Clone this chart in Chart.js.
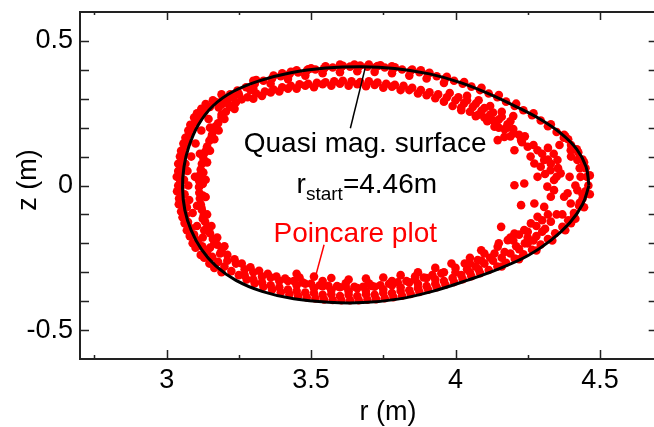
<!DOCTYPE html>
<html lang="en">
<head>
    <meta charset="UTF-8">
    <title>Poincare plot</title>
    <script src="https://cdn.jsdelivr.net/npm/chart.js"></script>
    <style>
        html, body { margin: 0; padding: 0; overflow: hidden; background: #fff; }
        canvas { display: block; }
    </style>
</head>
<body>
    <canvas id="poincare-chart" width="662" height="427"></canvas>

    <script>
        // axis ranges and ticks
        const rRange = [2.7, 4.7];
        const zRange = [-0.6, 0.6];
        const rMajorTicks = [3, 3.5, 4, 4.5];
        const rMinorTicks = [2.75, 3.25, 3.75, 4.25];
        const zMajorTicks = [-0.5, 0, 0.5];
        const zMinorTicks = [-0.4, -0.3, -0.2, -0.1, 0.1, 0.2, 0.3, 0.4];

        // quasi magnetic surface traced from r_start = 4.46 m
        const surfaceR = [4.462, 4.452, 4.42, 4.365, 4.295, 4.215, 4.12, 4.02, 3.91, 3.79, 3.675, 3.55, 3.43, 3.32,
            3.23, 3.16, 3.11, 3.077, 3.06, 3.055, 3.063, 3.085, 3.12, 3.17, 3.24, 3.33, 3.44, 3.56, 3.68, 3.8,
            3.92, 4.04, 4.15, 4.25, 4.33, 4.395, 4.44, 4.462];
        const surfaceZ = [0.0, 0.065, 0.125, 0.18, 0.228, 0.27, 0.315, 0.355, 0.386, 0.405, 0.411, 0.406, 0.39, 0.362,
            0.325, 0.275, 0.21, 0.135, 0.065, -0.01, -0.085, -0.155, -0.22, -0.278, -0.328, -0.366, -0.392, -0.404, -0.405, -0.393,
            -0.366, -0.328, -0.288, -0.243, -0.19, -0.13, -0.065, 0.0];

        // Poincare plot: punctures on the outer band (near the surface)
        const outerBand = [
            [4.46, 0.0], [4.455, 0.03], [4.45, 0.06], [4.44, 0.09], [4.425, 0.115], [4.40, 0.14], [4.375, 0.165],
            [4.35, 0.185], [4.32, 0.205], [4.295, 0.225], [4.265, 0.243], [4.235, 0.26], [4.205, 0.275], [4.175, 0.29],
            [4.145, 0.305], [4.115, 0.318], [4.085, 0.33], [4.055, 0.342], [4.025, 0.352], [3.995, 0.362], [3.965, 0.37],
            [3.935, 0.378], [3.905, 0.386], [3.875, 0.392], [3.845, 0.397], [3.815, 0.401], [3.785, 0.405], [3.755, 0.408],
            [3.725, 0.41], [3.695, 0.411], [3.665, 0.412], [3.635, 0.411], [3.605, 0.41], [3.575, 0.408], [3.545, 0.405],
            [3.515, 0.401], [3.485, 0.397], [3.455, 0.391], [3.425, 0.385], [3.395, 0.378], [3.365, 0.37], [3.335, 0.362],
            [3.305, 0.352], [3.275, 0.34], [3.245, 0.328], [3.22, 0.315], [3.195, 0.302], [3.172, 0.288], [3.15, 0.272],
            [3.13, 0.255], [3.113, 0.237], [3.098, 0.218], [3.087, 0.198], [3.077, 0.178], [3.069, 0.156], [3.062, 0.134],
            [3.057, 0.11], [3.053, 0.087], [3.05, 0.063], [3.048, 0.04], [3.047, 0.016], [3.048, -0.008], [3.05, -0.032],
            [3.054, -0.056], [3.059, -0.08], [3.066, -0.103], [3.074, -0.126], [3.084, -0.148], [3.095, -0.17], [3.108, -0.19],
            [3.123, -0.21], [3.14, -0.229], [3.158, -0.247], [3.178, -0.264], [3.2, -0.28], [3.224, -0.296], [3.25, -0.31],
            [3.277, -0.325], [3.305, -0.338], [3.335, -0.35], [3.365, -0.36], [3.395, -0.369], [3.425, -0.376], [3.455, -0.382],
            [3.485, -0.387], [3.515, -0.391], [3.545, -0.394], [3.575, -0.396], [3.605, -0.397], [3.635, -0.397], [3.665, -0.397],
            [3.695, -0.395], [3.725, -0.393], [3.755, -0.39], [3.785, -0.386], [3.815, -0.381], [3.845, -0.375], [3.875, -0.368],
            [3.905, -0.36], [3.935, -0.352], [3.965, -0.343], [3.995, -0.334], [4.025, -0.324], [4.055, -0.314], [4.085, -0.303],
            [4.115, -0.292], [4.145, -0.28], [4.175, -0.267], [4.205, -0.253], [4.235, -0.238], [4.265, -0.222], [4.295, -0.204],
            [4.32, -0.185], [4.345, -0.165], [4.37, -0.143], [4.39, -0.12], [4.41, -0.095], [4.428, -0.07], [4.44, -0.045],
            [4.45, -0.02],
            [3.035, 0.03], [3.036, -0.02], [3.04, 0.075], [3.042, -0.065], [3.05, 0.12], [3.055, -0.11], [3.065, 0.165],
            [3.07, -0.155], [3.082, 0.21], [3.09, -0.2], [3.105, 0.25], [3.118, -0.24], [3.135, 0.282], [3.148, -0.27],
            [3.3, 0.362], [3.4, 0.388], [3.45, 0.398], [3.5, 0.405], [3.55, 0.412], [3.6, 0.418], [3.65, 0.418],
            [3.7, 0.418], [3.74, 0.416], [3.78, 0.412], [3.88, 0.398],
            [3.075, 0.0], [3.072, 0.05], [3.078, -0.05], [3.085, 0.1], [3.09, -0.095], [3.1, 0.145], [3.105, -0.14],
            [3.12, 0.19], [3.125, -0.18], [3.145, 0.23], [3.15, -0.215],
            [3.3, 0.335], [3.36, 0.352], [3.42, 0.368], [3.48, 0.38], [3.54, 0.388], [3.6, 0.392], [3.66, 0.395],
            [3.72, 0.393], [3.78, 0.388], [3.84, 0.38], [3.9, 0.37], [3.96, 0.355],
            [3.3, -0.325], [3.36, -0.345], [3.42, -0.36], [3.48, -0.37], [3.54, -0.378], [3.6, -0.382], [3.66, -0.382],
            [3.72, -0.378], [3.78, -0.372], [3.84, -0.362], [3.9, -0.348], [3.96, -0.33], [4.02, -0.31], [4.08, -0.29],
            [3.31, 0.365], [3.37, 0.38], [3.43, 0.393], [3.49, 0.402], [3.55, 0.41], [3.61, 0.414], [3.67, 0.415],
            [3.73, 0.413], [3.79, 0.409], [3.85, 0.401], [3.91, 0.39], [3.97, 0.376], [4.03, 0.358], [4.09, 0.338],
            [4.15, 0.313], [4.21, 0.283], [4.27, 0.25], [4.33, 0.212], [4.38, 0.17], [4.42, 0.125], [4.445, 0.08],
            [4.465, 0.035], [4.465, -0.03], [4.445, -0.075], [4.415, -0.115], [4.38, -0.155], [4.335, -0.19], [4.28, -0.225],
            [4.22, -0.255], [4.16, -0.28],
            [3.04, 0.05], [3.04, 0.0], [3.043, -0.045], [3.046, 0.1], [3.05, -0.09], [3.058, 0.145], [3.062, -0.13],
            [3.075, 0.19], [3.08, -0.175], [3.095, 0.235], [3.1, -0.215], [3.12, 0.265], [3.13, -0.25], [3.16, 0.295],
            [3.165, -0.285], [3.19, 0.315], [3.19, -0.3], [3.06, 0.02], [3.062, -0.03], [3.065, 0.075], [3.07, -0.075],
            [3.27, -0.31], [3.33, -0.335], [3.39, -0.352], [3.45, -0.365], [3.51, -0.372], [3.57, -0.376], [3.63, -0.378],
            [3.69, -0.376], [3.75, -0.372], [3.81, -0.365], [3.87, -0.355], [3.93, -0.34], [3.99, -0.32], [4.05, -0.3],
            [4.43, 0.06], [4.44, -0.03], [4.43, -0.06], [4.4, 0.1], [4.415, 0.0], [4.395, 0.03], [4.39, 0.16],
            [4.4, -0.13], [4.37, -0.1], [4.36, 0.14]
        ];

        // punctures on the inner band
        const innerBand = [
            [3.28, 0.305], [3.31, 0.318], [3.34, 0.325], [3.37, 0.332], [3.40, 0.34], [3.43, 0.345], [3.46, 0.35],
            [3.49, 0.352], [3.52, 0.355], [3.55, 0.357], [3.58, 0.36], [3.61, 0.362], [3.64, 0.36], [3.67, 0.358],
            [3.70, 0.36], [3.73, 0.356], [3.76, 0.352], [3.79, 0.348], [3.82, 0.345], [3.85, 0.338], [3.88, 0.33],
            [3.91, 0.322], [3.94, 0.315], [3.97, 0.305],
            [3.33, 0.31], [3.39, 0.325], [3.45, 0.335], [3.51, 0.34], [3.57, 0.345], [3.63, 0.345], [3.69, 0.343],
            [3.75, 0.338], [3.81, 0.33], [3.87, 0.318], [3.93, 0.302],
            [4.0, 0.295], [4.03, 0.285], [4.06, 0.272], [4.09, 0.258], [4.12, 0.245], [4.15, 0.228], [4.18, 0.212],
            [4.2, 0.195], [4.22, 0.175], [3.99, 0.275], [4.05, 0.255], [4.1, 0.235], [4.14, 0.215], [4.17, 0.195],
            [4.04, 0.31], [4.08, 0.295], [4.12, 0.275], [4.16, 0.255], [4.2, 0.24],
            [3.92, -0.31], [3.89, -0.318], [3.86, -0.325], [3.83, -0.33], [3.80, -0.335], [3.77, -0.34], [3.74, -0.345],
            [3.71, -0.347], [3.68, -0.35], [3.65, -0.35], [3.62, -0.35], [3.59, -0.348], [3.56, -0.347], [3.53, -0.345],
            [3.50, -0.34], [3.47, -0.335], [3.44, -0.33], [3.41, -0.322], [3.38, -0.315], [3.35, -0.305], [3.32, -0.295],
            [3.29, -0.283], [3.26, -0.27], [3.235, -0.255], [3.21, -0.24],
            [3.45, -0.305], [3.51, -0.315], [3.57, -0.32], [3.63, -0.325], [3.69, -0.322], [3.75, -0.318], [3.81, -0.31],
            [3.87, -0.3], [3.93, -0.285],
            [3.19, -0.225], [3.175, -0.205], [3.16, -0.185], [3.15, -0.165], [3.14, -0.145], [3.133, -0.125], [3.128, -0.105],
            [3.122, -0.085], [3.118, -0.065], [3.115, -0.045], [3.113, -0.025], [3.112, -0.005], [3.113, 0.015], [3.115, 0.035],
            [3.118, 0.055], [3.122, 0.075], [3.127, 0.095], [3.133, 0.115], [3.14, 0.135], [3.148, 0.155], [3.157, 0.175],
            [3.167, 0.195], [3.178, 0.215], [3.19, 0.235], [3.205, 0.255], [3.222, 0.272], [3.24, 0.288], [3.26, 0.298],
            [3.14, -0.1], [3.135, -0.04], [3.135, 0.02], [3.14, 0.08], [3.15, 0.12], [3.165, 0.16], [3.18, 0.19],
            [3.155, -0.14], [3.175, -0.18], [3.2, -0.21], [3.2, 0.23], [3.235, 0.265],
            [3.3, 0.3], [3.36, 0.322], [3.42, 0.335], [3.48, 0.345], [3.54, 0.35], [3.6, 0.352], [3.66, 0.35],
            [3.72, 0.348], [3.78, 0.342], [3.84, 0.33], [3.9, 0.312], [3.96, 0.29], [4.02, 0.27], [4.08, 0.245],
            [4.13, 0.225], [4.18, 0.2],
            [3.125, -0.115], [3.12, -0.075], [3.125, -0.035], [3.125, 0.005], [3.127, 0.045], [3.13, 0.085], [3.138, 0.125],
            [3.155, 0.165], [3.17, 0.205], [3.19, 0.245], [3.215, 0.28], [3.165, -0.2], [3.185, -0.235], [3.21, -0.26],
            [3.24, -0.27], [3.3, -0.3], [3.36, -0.318], [3.42, -0.33], [3.48, -0.34], [3.54, -0.348], [3.6, -0.352],
            [3.66, -0.355], [3.72, -0.35], [3.78, -0.345], [3.84, -0.335], [3.9, -0.32], [3.96, -0.3], [4.0, -0.285],
            [4.05, -0.27],
            [3.98, 0.32], [4.01, 0.305], [4.04, 0.295], [4.07, 0.283], [4.1, 0.268], [4.13, 0.252], [4.16, 0.238],
            [4.19, 0.222], [4.02, 0.26], [4.07, 0.24], [4.11, 0.222], [4.15, 0.2], [4.19, 0.17], [4.23, 0.15],
            [4.0, -0.3], [4.04, -0.29], [4.07, -0.28], [4.1, -0.27], [4.13, -0.26], [4.16, -0.25], [4.19, -0.235],
            [4.22, -0.22], [4.25, -0.2], [4.28, -0.175], [4.31, -0.15], [4.33, -0.125], [4.35, -0.1], [4.2, -0.19],
            [4.25, -0.18], [4.15, -0.2], [4.1, -0.235], [4.05, -0.25],
            [3.27, -0.29], [3.33, -0.315], [3.39, -0.33], [3.45, -0.345], [3.51, -0.355], [3.57, -0.362], [3.63, -0.366],
            [3.69, -0.365], [3.75, -0.36], [3.81, -0.352], [3.87, -0.34], [3.93, -0.325], [3.46, -0.318], [3.54, -0.33],
            [3.62, -0.338], [3.7, -0.338], [3.78, -0.33], [3.86, -0.315],
            [3.098, 0.03], [3.105, -0.07], [3.115, 0.11], [3.13, -0.155], [3.15, 0.2],
            [3.18, 0.27], [3.21, 0.295], [3.25, 0.315], [3.29, 0.33], [3.23, 0.305], [3.19, 0.28]
        ];

        // scattered punctures near the outboard side
        const outboardScatter = [
            [4.135, 0.203], [4.169, 0.168], [4.227, 0.157], [4.25, 0.134], [4.284, 0.122], [4.307, 0.088], [4.329, 0.053],
            [4.341, 0.019], [4.318, -0.004], [4.284, 0.03], [4.295, 0.065], [4.273, 0.076], [4.204, 0.001], [4.238, 0.007],
            [4.227, -0.068], [4.273, -0.062], [4.307, -0.074], [4.284, -0.108], [4.261, -0.131], [4.238, -0.154], [4.204, -0.166],
            [4.181, -0.189], [4.146, -0.212], [4.158, -0.143], [4.135, -0.235], [4.089, -0.224], [4.077, -0.258], [4.032, -0.27],
            [3.986, -0.27], [3.951, -0.304], [4.422, 0.088], [4.433, 0.03], [4.422, -0.016], [4.399, -0.062], [4.41, -0.108],
            [4.388, -0.027], [4.399, 0.122], [4.376, 0.175], [4.146, 0.157], [4.204, 0.122], [4.353, 0.088], [4.364, 0.042],
            [4.341, -0.016], [4.376, -0.039], [4.33, -0.039],
            [4.26, 0.1], [4.3, 0.11], [4.32, 0.09], [4.33, 0.075], [4.31, 0.04], [4.35, 0.03], [4.32, 0.13], [4.34, 0.11],
            [4.355, 0.06], [4.27, 0.14], [4.24, 0.17], [4.2, 0.18], [4.19, -0.18], [4.22, -0.17], [4.25, -0.16], [4.28, -0.14],
            [4.3, -0.12], [4.32, -0.1], [4.3, -0.16], [4.27, -0.19], [4.24, -0.2], [4.21, -0.21], [4.17, -0.23], [4.12, -0.25],
            [4.09, -0.26]
        ];

        const fontFamily = '"Liberation Sans", Arial, Helvetica, sans-serif';

        function toPoints(list) {
            return list.map(p => ({ x: p[0], y: p[1] }));
        }

        // frame with inward ticks, axis titles, and the two annotations
        const framePlugin = {
            id: 'framePlugin',
            afterDraw(chart) {
                const ctx = chart.ctx;
                const a = chart.chartArea;
                const xs = chart.scales.x;
                const ys = chart.scales.y;
                ctx.save();

                // leader lines
                ctx.lineWidth = 1.5;
                ctx.strokeStyle = '#000';
                ctx.beginPath();
                ctx.moveTo(xs.getPixelForValue(3.687), ys.getPixelForValue(0.405));
                ctx.lineTo(xs.getPixelForValue(3.636), ys.getPixelForValue(0.198));
                ctx.stroke();
                ctx.strokeStyle = '#ff0000';
                ctx.beginPath();
                ctx.moveTo(xs.getPixelForValue(3.545), ys.getPixelForValue(-0.205));
                ctx.lineTo(xs.getPixelForValue(3.515), ys.getPixelForValue(-0.316));
                ctx.stroke();

                // annotation text
                ctx.textBaseline = 'alphabetic';
                ctx.font = '28px ' + fontFamily;
                ctx.fillStyle = '#000';
                ctx.textAlign = 'center';
                ctx.fillText('Quasi mag. surface', xs.getPixelForValue(3.687), ys.getPixelForValue(0.1166));

                ctx.textAlign = 'left';
                const subFont = '19px ' + fontFamily;
                const mainFont = '28px ' + fontFamily;
                ctx.font = mainFont;
                const wR = ctx.measureText('r').width;
                const wEq = ctx.measureText('=4.46m').width;
                ctx.font = subFont;
                const wSub = ctx.measureText('start').width;
                let tx = xs.getPixelForValue(3.693) - (wR + wSub + wEq) / 2;
                const ty = ys.getPixelForValue(-0.0273);
                ctx.font = mainFont;
                ctx.fillText('r', tx, ty);
                tx += wR;
                ctx.font = subFont;
                ctx.fillText('start', tx, ty + 7);
                tx += wSub;
                ctx.font = mainFont;
                ctx.fillText('=4.46m', tx, ty);

                ctx.fillStyle = '#ff0000';
                ctx.textAlign = 'center';
                ctx.fillText('Poincare plot', xs.getPixelForValue(3.653), ys.getPixelForValue(-0.195));

                // frame
                ctx.strokeStyle = '#222';
                ctx.lineWidth = 2;
                ctx.strokeRect(a.left, a.top, a.right - a.left, a.bottom - a.top);

                // inward ticks
                ctx.lineWidth = 1.5;
                ctx.beginPath();
                const xTick = (v, lb, lt) => {
                    const px = Math.round(xs.getPixelForValue(v)) + 0.5;
                    ctx.moveTo(px, a.bottom); ctx.lineTo(px, a.bottom - lb);
                    ctx.moveTo(px, a.top); ctx.lineTo(px, a.top + lt);
                };
                const yTick = (v, len) => {
                    const py = Math.round(ys.getPixelForValue(v)) + 0.5;
                    ctx.moveTo(a.left, py); ctx.lineTo(a.left + len, py);
                    ctx.moveTo(a.right, py); ctx.lineTo(a.right - len, py);
                };
                rMajorTicks.forEach(v => xTick(v, 9, 8));
                rMinorTicks.forEach(v => xTick(v, 4, 3));
                zMajorTicks.forEach(v => yTick(v, 9));
                zMinorTicks.forEach(v => yTick(v, 9));
                ctx.stroke();

                // axis titles
                ctx.fillStyle = '#000';
                ctx.font = '27px ' + fontFamily;
                ctx.textAlign = 'center';
                ctx.textBaseline = 'alphabetic';
                ctx.fillText('r (m)', 388, 420);
                ctx.translate(36, 180);
                ctx.rotate(-Math.PI / 2);
                ctx.fillText('z (m)', 0, 0);

                ctx.restore();
            }
        };

        const ctx = document.getElementById('poincare-chart').getContext('2d');
        new Chart(ctx, {
            type: 'scatter',
            data: {
                datasets: [
                    {
                        label: 'Quasi mag. surface',
                        data: surfaceR.map((r, i) => ({ x: r, y: surfaceZ[i] })),
                        showLine: true,
                        borderColor: '#000',
                        borderWidth: 3,
                        tension: 0.4,
                        pointRadius: 0,
                        order: 0
                    },
                    {
                        label: 'Poincare plot',
                        data: toPoints(outerBand.concat(innerBand, outboardScatter)),
                        showLine: false,
                        backgroundColor: '#ff0000',
                        borderColor: '#ff0000',
                        pointRadius: 4.3,
                        pointBorderWidth: 0,
                        order: 1
                    }
                ]
            },
            options: {
                responsive: false,
                animation: false,
                layout: { padding: { top: 12, right: 1, left: 0, bottom: 0 } },
                plugins: {
                    legend: { display: false },
                    tooltip: { enabled: false }
                },
                scales: {
                    x: {
                        type: 'linear',
                        position: 'bottom',
                        min: rRange[0],
                        max: rRange[1],
                        grid: { display: false, drawTicks: false },
                        border: { display: false },
                        afterBuildTicks: scale => { scale.ticks = rMajorTicks.map(v => ({ value: v })); },
                        afterFit: scale => {
                            scale.height = 68;
                            scale.paddingLeft = 0;
                            scale.paddingRight = 0;
                        },
                        ticks: {
                            color: '#000',
                            padding: 5,
                            maxRotation: 0,
                            font: { family: fontFamily, size: 27 },
                            callback: v => String(v)
                        }
                    },
                    y: {
                        type: 'linear',
                        position: 'left',
                        min: zRange[0],
                        max: zRange[1],
                        grid: { display: false, drawTicks: false },
                        border: { display: false },
                        afterBuildTicks: scale => { scale.ticks = zMajorTicks.map(v => ({ value: v })); },
                        afterFit: scale => {
                            scale.width = 80;
                            scale.paddingTop = 0;
                            scale.paddingBottom = 0;
                        },
                        ticks: {
                            color: '#000',
                            padding: 7,
                            font: { family: fontFamily, size: 27 },
                            callback: v => String(v)
                        }
                    }
                }
            },
            plugins: [framePlugin]
        });
    </script>
</body>
</html>
